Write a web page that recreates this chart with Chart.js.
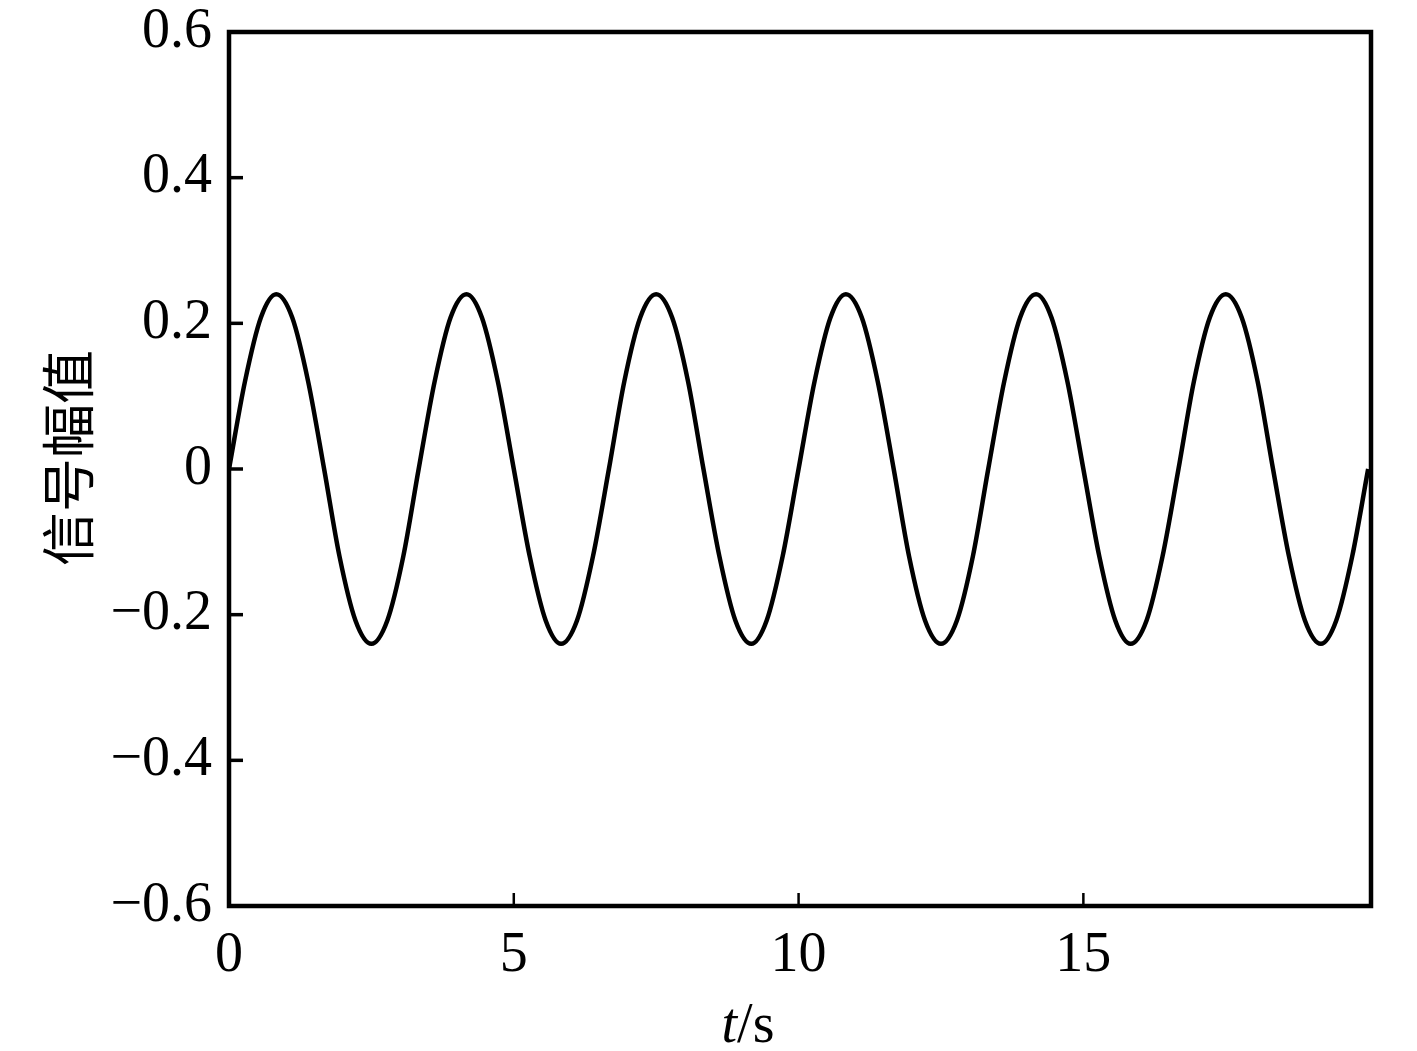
<!DOCTYPE html>
<html>
<head>
<meta charset="utf-8">
<script src="https://cdn.jsdelivr.net/npm/chart.js@4.4.0/dist/chart.umd.min.js"></script>
<style>
  body { margin: 0; background: #fff; }
</style>
</head>
<body>
<canvas id="signal" width="1417" height="1051"></canvas>
<script>
// time (s) and amplitude
const timeS = [
  0, 0.28, 0.56, 0.83, 1.11, 1.39, 1.67, 1.94, 2.22, 2.5, 2.78, 3.06,
  3.33, 3.61, 3.89, 4.17, 4.44, 4.72, 5.0, 5.28, 5.56, 5.83, 6.11, 6.39,
  6.67, 6.94, 7.22, 7.5, 7.78, 8.06, 8.33, 8.61, 8.89, 9.17, 9.44, 9.72,
  10.0, 10.28, 10.56, 10.83, 11.11, 11.39, 11.67, 11.94, 12.22, 12.5, 12.78, 13.06,
  13.33, 13.61, 13.89, 14.17, 14.44, 14.72, 15.0, 15.28, 15.56, 15.83, 16.11, 16.39,
  16.67, 16.94, 17.22, 17.5, 17.78, 18.06, 18.33, 18.61, 18.89, 19.17, 19.44, 19.72,
  20.0
];
const amplitude = [
  0, 0.12, 0.208, 0.24, 0.208, 0.12, 0, -0.12, -0.208, -0.24, -0.208, -0.12,
  0, 0.12, 0.208, 0.24, 0.208, 0.12, 0, -0.12, -0.208, -0.24, -0.208, -0.12,
  0, 0.12, 0.208, 0.24, 0.208, 0.12, 0, -0.12, -0.208, -0.24, -0.208, -0.12,
  0, 0.12, 0.208, 0.24, 0.208, 0.12, 0, -0.12, -0.208, -0.24, -0.208, -0.12,
  0, 0.12, 0.208, 0.24, 0.208, 0.12, 0, -0.12, -0.208, -0.24, -0.208, -0.12,
  0, 0.12, 0.208, 0.24, 0.208, 0.12, 0, -0.12, -0.208, -0.24, -0.208, -0.12,
  0
];
const xTicks = [0, 5, 10, 15];
const yTicks = [-0.6, -0.4, -0.2, 0, 0.2, 0.4, 0.6];

const serif = '"Liberation Serif", "Times New Roman", serif';

function fmtY(v) {
  if (Math.abs(v) < 1e-9) return '0';
  return (v < 0 ? '\u2212' : '') + Math.abs(v).toFixed(1);
}

// box, inward ticks and axis titles
const framePlugin = {
  id: 'frame',
  afterDatasetsDraw(chart) {
    const ctx = chart.ctx;
    const a = chart.chartArea;
    const xs = chart.scales.x, ys = chart.scales.y;
    ctx.save();
    ctx.strokeStyle = '#000';
    ctx.lineWidth = 3.5;
    yTicks.forEach(v => {
      if (Math.abs(v) > 0.59) return;
      const py = ys.getPixelForValue(v);
      ctx.beginPath();
      ctx.moveTo(a.left, py);
      ctx.lineTo(a.left + 14, py);
      ctx.stroke();
    });
    ctx.lineWidth = 2.5;
    xTicks.forEach(v => {
      if (v === 0) return;
      const px = xs.getPixelForValue(v);
      ctx.beginPath();
      ctx.moveTo(px, a.bottom);
      ctx.lineTo(px, a.bottom - 13);
      ctx.stroke();
    });
    ctx.lineWidth = 4.5;
    ctx.strokeRect(a.left, a.top, a.right - a.left, a.bottom - a.top);

    // y title
    ctx.fillStyle = '#000';
    ctx.font = '54px "Noto Sans CJK SC"';
    ctx.textAlign = 'center';
    ctx.textBaseline = 'middle';
    ctx.translate(68, 458);
    ctx.rotate(-Math.PI / 2);
    ctx.fillText('信号幅值', 0, 0);
    ctx.setTransform(1, 0, 0, 1, 0, 0);

    // x title, italic t
    ctx.textAlign = 'left';
    ctx.textBaseline = 'alphabetic';
    ctx.font = 'italic 56px ' + serif;
    const w1 = ctx.measureText('t').width;
    ctx.font = '56px ' + serif;
    const w2 = ctx.measureText('/s').width;
    const x0 = 748 - (w1 + w2) / 2;
    ctx.font = 'italic 56px ' + serif;
    ctx.fillText('t', x0, 1042);
    ctx.font = '56px ' + serif;
    ctx.fillText('/s', x0 + w1, 1042);
    ctx.restore();
  }
};

const ctx = document.getElementById('signal').getContext('2d');
const chart = new Chart(ctx, {
  type: 'line',
  data: {
    datasets: [{
      data: timeS.map((t, i) => ({ x: t, y: amplitude[i] })),
      borderColor: '#000',
      borderWidth: 4.5,
      pointRadius: 0,
      fill: false,
      cubicInterpolationMode: 'monotone'
    }]
  },
  options: {
    responsive: false,
    animation: false,
    layout: { padding: { top: 32, right: 46, left: 0, bottom: 0 } },
    plugins: {
      legend: { display: false },
      tooltip: { enabled: false }
    },
    scales: {
      x: {
        type: 'linear',
        min: 0,
        max: 20.05,
        afterBuildTicks: s => { s.ticks = xTicks.map(v => ({ value: v })); },
        afterFit: s => { s.height = 145; s.paddingLeft = 0; s.paddingRight = 0; },
        grid: { display: false, drawTicks: false },
        border: { display: false },
        ticks: {
          color: '#000',
          padding: 17,
          maxRotation: 0,
          font: { family: serif, size: 56 }
        }
      },
      y: {
        min: -0.6,
        max: 0.6,
        afterBuildTicks: s => { s.ticks = yTicks.map(v => ({ value: v })); },
        afterFit: s => { s.width = 229; s.paddingTop = 0; s.paddingBottom = 0; },
        grid: { display: false, drawTicks: false },
        border: { display: false },
        ticks: {
          color: '#000',
          padding: 17,
          font: { family: serif, size: 56 },
          callback: v => fmtY(v)
        }
      }
    }
  },
  plugins: [framePlugin]
});
</script>
</body>
</html>
